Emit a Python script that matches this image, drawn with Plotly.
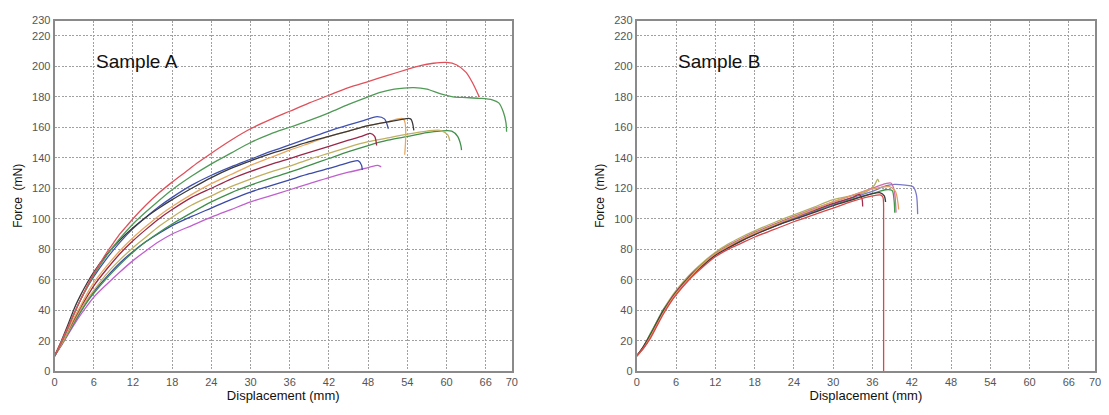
import plotly.graph_objects as go
from plotly.subplots import make_subplots

# ---------- Sample A curves (displacement mm, force mN) ----------
a_red_x = [0, 1, 2, 3, 4, 5, 6, 7, 8, 9, 10, 11, 12, 14, 16, 18, 20, 22, 24, 27, 30, 33, 36, 39, 42, 45, 48, 51, 54, 56, 58, 60, 61.5, 63, 64, 65]
a_red_y = [10, 19, 28.5, 38, 47, 56, 64, 71, 78, 84, 90, 95, 100, 109, 117, 124, 130.5, 137, 143, 151.5, 159, 165, 170.5, 176, 181, 186, 190, 194, 198, 200.5, 202, 202.5, 201, 196, 189, 180]

a_green1_x = [0, 1, 2, 3, 4, 5, 6, 8, 10, 12, 14, 16, 18, 21, 24, 27, 30, 33, 36, 39, 42, 45, 48, 50, 52, 55, 57, 59, 61, 63, 65, 67, 68, 68.7, 69.1, 69.2]
a_green1_y = [10, 18.5, 28, 37.5, 47, 55, 63, 76, 87, 96.5, 104.5, 112, 119, 128, 136, 143, 150, 155.5, 160, 164.5, 169.5, 175, 180, 183, 185, 186, 185, 182, 180, 179.5, 179, 178, 176, 170, 163, 157]

a_blue1_x = [0, 1, 2, 3, 4, 5, 6, 8, 10, 12, 14, 16, 18, 21, 24, 27, 30, 33, 36, 39, 42, 45, 47, 49.4, 50.5, 51.1]
a_blue1_y = [10, 18.5, 28, 38, 47, 55, 62, 74, 84.5, 93.5, 101, 108, 114, 122, 128.5, 134, 139, 144, 148.5, 153, 157.5, 161.5, 164, 167, 165.5, 159]

a_black_x = [0, 1, 2, 3, 4, 5, 6, 8, 10, 12, 14, 16, 18, 21, 24, 27, 30, 33, 36, 39, 42, 45, 48, 51, 53, 54.5, 55]
a_black_y = [10, 19.5, 30, 41, 50, 58, 65, 76.5, 86, 94, 101, 107, 112.5, 120, 127, 133, 138, 142.5, 146.5, 150.5, 154, 157.5, 161, 163.5, 165, 165.5, 158]

a_orange_x = [0, 1, 2, 3, 4, 5, 6, 8, 10, 12, 14, 16, 18, 21, 24, 27, 30, 33, 36, 39, 42, 45, 48, 51, 53.4, 53.6]
a_orange_y = [10, 17.5, 26, 35, 43, 51, 58, 69, 79, 87.5, 95, 102, 108, 116, 123, 129, 135, 140, 145, 149.5, 154, 157.5, 161, 163.5, 165.5, 142]

a_maroon_x = [0, 1, 2, 3, 4, 5, 6, 8, 10, 12, 14, 16, 18, 21, 24, 27, 30, 33, 36, 39, 42, 45, 47, 48.3, 49, 49.3]
a_maroon_y = [10, 17.5, 26, 34, 42, 49, 56, 67, 77, 85.5, 93, 100, 106, 114, 120, 126, 131, 135.5, 139.5, 143.5, 147.5, 151.5, 154, 156, 154, 148]

a_olive_x = [0, 1, 2, 3, 4, 5, 6, 8, 10, 12, 14, 16, 18, 21, 24, 27, 30, 33, 36, 39, 42, 45, 48, 51, 54, 57, 59, 60.2, 60.5]
a_olive_y = [10, 17, 25, 33, 40.5, 47, 53, 64, 73, 81, 88, 95, 101, 109, 115, 121, 126, 130.5, 134.5, 139, 143, 147, 150.5, 153, 155.5, 157.5, 158, 155, 151]

a_green2_x = [0, 1, 2, 3, 4, 5, 6, 8, 10, 12, 14, 16, 18, 21, 24, 27, 30, 33, 36, 39, 42, 45, 48, 51, 54, 57, 59, 60.8, 61.7, 62.2, 62.3]
a_green2_y = [10, 17, 24.5, 32, 39, 45.5, 51, 61, 70, 78, 85, 91, 96.5, 104, 111, 117, 122, 126.5, 130.5, 135, 139.5, 144, 148, 151.5, 154, 156.5, 157.5, 157.5, 154, 148, 145]

a_blue2_x = [0, 1, 2, 3, 4, 5, 6, 8, 10, 12, 14, 16, 18, 21, 24, 27, 30, 33, 36, 39, 42, 44, 46.5, 47, 47.1]
a_blue2_y = [10, 17, 24.5, 32, 39, 46, 52, 62, 71, 78.5, 85, 90.5, 95.5, 101.5, 107, 112.5, 117.5, 121.5, 125.5, 129.5, 133, 135.5, 138, 135, 132]

a_magenta_x = [0, 1, 2, 3, 4, 5, 6, 8, 10, 12, 14, 16, 18, 21, 24, 27, 30, 33, 36, 39, 42, 45, 48, 49.5, 50]
a_magenta_y = [10, 16.5, 23.5, 30.5, 37, 43, 48.5, 57, 65, 72.5, 79, 85, 90, 95.5, 101, 106, 111, 115, 119, 123, 127, 130.5, 133.5, 135, 134]

# ---------- Sample B curves ----------
b_x_common = [0, 1, 2, 3, 4, 5, 6, 8, 10, 12, 14, 16, 18, 21, 24, 27, 30, 33, 36]

b_olive_x = b_x_common[:-2] + [35, 36.3, 36.8, 37]
b_olive_y = [10, 16, 24, 32, 40, 47, 53, 63, 71, 78, 83.5, 88, 92, 97.5, 102.5, 107.5, 112.5, 117.5, 122, 126, 124, 121]

b_green_x = b_x_common + [38, 39, 39.3, 39.4]
b_green_y = [10, 16, 24, 32, 40, 46, 52, 62, 70, 77, 82, 86, 90, 95, 100, 104.5, 109, 113, 116.5, 119, 118.5, 112, 104]

b_lavender_x = b_x_common + [38, 39.4, 41, 42.2, 42.7, 42.9]
b_lavender_y = [10, 15, 22, 30, 38, 45, 51, 61, 69, 76, 81, 85.5, 89.5, 95, 100, 105, 109.5, 114, 118, 121.5, 122.5, 122, 121, 116, 103]

b_magenta_x = b_x_common + [38, 38.8, 39.3, 39.6]
b_magenta_y = [10, 15, 22, 30, 38, 45, 51, 61, 70, 77, 82.5, 87, 91, 96.5, 101.5, 106.5, 111, 115.5, 120, 123, 123.4, 119, 104]

b_red_x = b_x_common + [37.3, 37.6, 37.7, 37.7]
b_red_y = [10, 15, 21, 29, 37, 44, 50, 60, 68, 75, 80, 84, 88, 93, 98, 102.5, 107, 111.5, 115, 115.5, 114, 100, 0]

b_maroon_x = b_x_common[:-2] + [33, 34, 34.4, 34.5]
b_maroon_y = [10, 16, 23, 31, 39, 46, 52, 62, 70, 77, 82, 86.5, 90.5, 96, 101, 105.5, 110, 114, 116, 113, 108]

b_black_x = b_x_common + [37.2, 37.8, 38]
b_black_y = [10, 16, 23, 31, 39, 45, 51, 61, 69, 76, 81, 85.5, 89.5, 95, 99.5, 104, 108.5, 112.5, 116.5, 117, 115, 111]

b_orange_x = b_x_common + [38.6, 39.5, 39.9, 40]
b_orange_y = [10, 15, 22, 30, 38, 45, 51, 61, 70, 77, 82, 86.5, 90.5, 96, 101, 106, 111, 115.5, 119.5, 121, 118, 110, 106]

x_ticks = [0, 6, 12, 18, 24, 30, 36, 42, 48, 54, 60, 66, 70]
y_ticks = [0, 20, 40, 60, 80, 100, 120, 140, 160, 180, 200, 220, 230]

sample_a = [
    (a_magenta_x, a_magenta_y, "#c060d0"),
    (a_blue2_x, a_blue2_y, "#3a4aa8"),
    (a_green2_x, a_green2_y, "#3f8f4a"),
    (a_olive_x, a_olive_y, "#c0b060"),
    (a_maroon_x, a_maroon_y, "#9a2848"),
    (a_orange_x, a_orange_y, "#e8a860"),
    (a_blue1_x, a_blue1_y, "#4050b0"),
    (a_black_x, a_black_y, "#3a3a3a"),
    (a_green1_x, a_green1_y, "#4f9a55"),
    (a_red_x, a_red_y, "#e0505a"),
]
sample_b = [
    (b_olive_x, b_olive_y, "#b0b060"),
    (b_green_x, b_green_y, "#3f9a4a"),
    (b_lavender_x, b_lavender_y, "#7a78c8"),
    (b_magenta_x, b_magenta_y, "#d06aa8"),
    (b_maroon_x, b_maroon_y, "#a03050"),
    (b_black_x, b_black_y, "#3a3a3a"),
    (b_orange_x, b_orange_y, "#e0a060"),
    (b_red_x, b_red_y, "#d84848"),
]

fig = make_subplots(rows=1, cols=2)
for xs, ys, c in sample_a:
    fig.add_trace(go.Scatter(x=xs, y=ys, mode="lines",
                             line=dict(color=c, width=1.3, shape="spline", smoothing=0.8),
                             showlegend=False), row=1, col=1)
for xs, ys, c in sample_b:
    fig.add_trace(go.Scatter(x=xs, y=ys, mode="lines",
                             line=dict(color=c, width=1.3, shape="spline", smoothing=0.8),
                             showlegend=False), row=1, col=2)

W, H = 1109, 415
xd1 = [52 / W, 513 / W]
xd2 = [639 / W, 1101 / W]
yd = [(H - 376) / H, (H - 15) / H]

axis_common = dict(showgrid=True, gridcolor="#a0a0a0", griddash="2px,1.5px", gridwidth=1,
                   showline=True, linecolor="#8a8a8a", linewidth=2, mirror=True,
                   ticks="", zeroline=False,
                   tickfont=dict(family="Liberation Sans, Arial, sans-serif", size=11, color="#555555"))

fig.update_xaxes(range=[0, 70], tickvals=x_ticks, ticktext=[str(t) for t in x_ticks],
                 title=dict(text="Displacement (mm)", font=dict(family="Liberation Sans, Arial", size=13, color="#111"), standoff=4),
                 **axis_common)
fig.update_yaxes(range=[0, 230], tickvals=y_ticks, ticktext=[str(t) for t in y_ticks],
                 title=dict(text="Force  (mN)", font=dict(family="Liberation Sans, Arial", size=12, color="#111"), standoff=7),
                 **axis_common)
fig.update_layout(
    xaxis=dict(domain=xd1), xaxis2=dict(domain=xd2),
    yaxis=dict(domain=yd), yaxis2=dict(domain=yd),
    width=W, height=H, margin=dict(l=0, r=0, t=0, b=0),
    plot_bgcolor="white", paper_bgcolor="white",
)
fig.add_annotation(x=6, y=203, xref="x", yref="y", text="Sample A", showarrow=False, xanchor="left",
                   font=dict(family="Liberation Sans, Arial", size=19, color="#111"))
fig.add_annotation(x=6, y=203, xref="x2", yref="y2", text="Sample B", showarrow=False, xanchor="left",
                   font=dict(family="Liberation Sans, Arial", size=19, color="#111"))

fig.write_html("out.html")
